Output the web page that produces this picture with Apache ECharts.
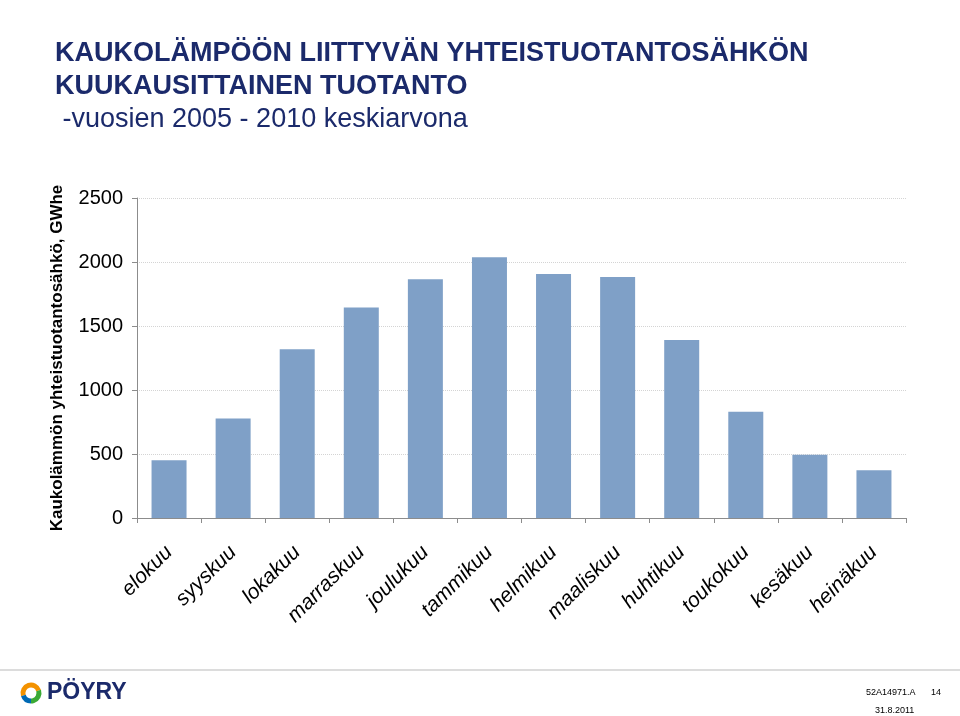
<!DOCTYPE html>
<html>
<head>
<meta charset="utf-8">
<script src="https://cdn.jsdelivr.net/npm/echarts@6/dist/echarts.min.js"></script>
<style>
  html, body { margin: 0; padding: 0; background: #fff; }
  #main { width: 960px; height: 716px; }
</style>
</head>
<body>
<div id="main"></div>
<script>
// kuukaudet elokuu -> heinäkuu
const months = ['elokuu', 'syyskuu', 'lokakuu', 'marraskuu', 'joulukuu', 'tammikuu',
  'helmikuu', 'maaliskuu', 'huhtikuu', 'toukokuu', 'kesäkuu', 'heinäkuu']
// GWhe, luettu kuvasta
const production = [451, 777, 1318, 1644, 1865, 2037, 1906, 1883, 1391, 831, 495, 373]
const yTicks = { min: 0, max: 2500, interval: 500 }

const navy = '#1b2a6b'
const font = 'Liberation Sans, Arial, sans-serif'

const chart = echarts.init(document.getElementById('main'))

chart.setOption({
  animation: false,
  backgroundColor: '#fff',
  textStyle: { fontFamily: font },
  title: [
    {
      text: 'KAUKOLÄMPÖÖN LIITTYVÄN YHTEISTUOTANTOSÄHKÖN\nKUUKAUSITTAINEN TUOTANTO',
      left: 50, top: 32,
      textStyle: { fontSize: 27, lineHeight: 33, fontWeight: 'bold', color: navy, fontFamily: font },
    },
    {
      text: ' -vuosien 2005 - 2010 keskiarvona',
      left: 50, top: 101,
      textStyle: { fontSize: 27, fontWeight: 'normal', color: navy, fontFamily: font },
    },
  ],
  grid: { left: 137, right: 54, top: 198, bottom: 198 },
  xAxis: {
    type: 'category',
    data: months,
    axisLine: { lineStyle: { color: '#8c8c8c', width: 1 } },
    axisTick: { show: true, length: 5, lineStyle: { color: '#8c8c8c' } },
    axisLabel: {
      rotate: 45, margin: 31, fontSize: 21, fontStyle: 'italic', color: '#000',
      interval: 0, fontFamily: font,
    },
  },
  yAxis: {
    type: 'value',
    min: yTicks.min, max: yTicks.max, interval: yTicks.interval,
    name: 'Kaukolämmön yhteistuotantosähkö, GWhe',
    nameLocation: 'middle',
    nameGap: 71,
    nameRotate: 90,
    nameTextStyle: { fontSize: 17, fontWeight: 'bold', color: '#000', fontFamily: font },
    axisLine: { show: true, lineStyle: { color: '#8c8c8c' } },
    axisTick: { show: true, length: 5, lineStyle: { color: '#8c8c8c' } },
    axisLabel: { fontSize: 20, color: '#000', margin: 14, fontFamily: font, formatter: v => String(v) },
    splitLine: { lineStyle: { color: '#d4d4d4', type: 'dotted' } },
  },
  series: [{
    type: 'bar',
    data: production,
    barWidth: 35,
    itemStyle: { color: '#7fa0c7' },
  }],
  graphic: [
    // alaviiva
    { type: 'line', shape: { x1: 0, y1: 670, x2: 960, y2: 670 }, style: { stroke: '#dcdcdc', lineWidth: 2 } },
    // logo
    { type: 'arc', shape: { cx: 31, cy: 693, r: 8, startAngle: Math.PI * 0.9, endAngle: Math.PI * 1.9 },
      style: { stroke: '#f39200', lineWidth: 5, fill: null } },
    { type: 'arc', shape: { cx: 31, cy: 693, r: 8, startAngle: -Math.PI * 0.1, endAngle: Math.PI * 0.5 },
      style: { stroke: '#3aa935', lineWidth: 5, fill: null } },
    { type: 'arc', shape: { cx: 31, cy: 693, r: 8, startAngle: Math.PI * 0.5, endAngle: Math.PI * 0.9 },
      style: { stroke: '#0069b4', lineWidth: 5, fill: null } },
    { type: 'text', left: 47, top: 681,
      style: { text: 'PÖYRY', font: 'bold 23px ' + font, fill: navy } },
    // sivun tiedot
    { type: 'text', left: 866, top: 688,
      style: { text: '52A14971.A', font: '9px ' + font, fill: '#000' } },
    { type: 'text', left: 931, top: 688,
      style: { text: '14', font: '9px ' + font, fill: '#000' } },
    { type: 'text', left: 875, top: 706,
      style: { text: '31.8.2011', font: '9px ' + font, fill: '#000' } },
  ],
})
</script>
</body>
</html>
